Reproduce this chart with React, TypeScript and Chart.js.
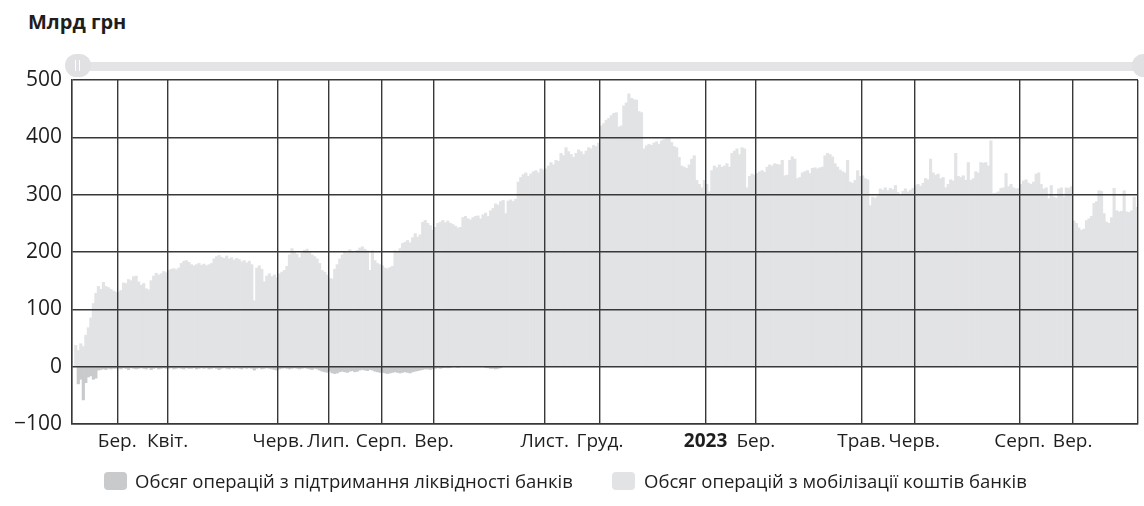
import React, { useEffect, useRef } from 'react';
import { Chart, registerables } from 'chart.js';

Chart.register(...registerables);

const FONT = "'Open Sans', 'Noto Sans', sans-serif";

// Period labels (start of each period on the x axis)
const periodLabels = ['', 'Бер.', 'Квіт.', 'Черв.', 'Лип.', 'Серп.', 'Вер.', 'Лист.', 'Груд.', '2023', 'Бер.', 'Трав.', 'Черв.', 'Серп.', 'Вер.'];

// Mobilization of bank funds, bn UAH (daily, per period)
const mobFeb22 = [0, 37, 28, 40, 35, 55, 68, 85, 110, 128, 140, 135, 147, 140, 138, 135, 132, 130];
const mobMar22 = [130, 133, 146, 145, 152, 150, 157, 158, 148, 142, 145, 136, 134, 150, 158, 163, 160, 162, 166, 164];
const mobAprMay22 = [168, 170, 171, 169, 172, 180, 184, 185, 182, 178, 176, 178, 180, 177, 179, 176, 178, 180, 188, 192, 194, 191, 189, 193, 188, 190, 186, 189, 187, 183, 185, 181, 184, 178, 115, 172, 176, 170, 148, 158, 162, 157, 160, 155];
const mobJun22 = [162, 165, 168, 175, 195, 206, 200, 196, 190, 198, 203, 205, 200, 195, 192, 188, 180, 168, 165, 160];
const mobJul22 = [154, 153, 170, 178, 188, 195, 200, 198, 204, 200, 198, 203, 207, 209, 205, 202, 168, 202, 185, 180, 178];
const mobAug22 = [176, 172, 171, 173, 175, 202, 200, 206, 215, 217, 220, 216, 225, 232, 226, 230, 252, 255, 250, 246, 238];
const mobSepOct22 = [243, 250, 252, 255, 251, 254, 250, 248, 245, 242, 243, 260, 262, 258, 256, 260, 262, 263, 258, 265, 268, 262, 272, 276, 284, 282, 288, 290, 267, 289, 291, 288, 292, 322, 330, 335, 338, 332, 336, 340, 342, 338, 345, 343];
const mobNov22 = [345, 350, 356, 352, 360, 358, 372, 368, 382, 375, 370, 365, 372, 378, 375, 370, 376, 382, 380, 386, 384, 390];
const mobDec22 = [420, 424, 430, 433, 438, 442, 443, 418, 420, 455, 460, 476, 468, 466, 465, 445, 443, 380, 385, 388, 386, 390, 392, 388, 394, 396, 398, 400, 391, 384, 382, 365, 350, 348, 346, 352, 362, 368, 325, 318, 312, 325];
const mobJanFeb23 = [318, 305, 342, 350, 347, 352, 348, 350, 354, 348, 372, 376, 380, 370, 382, 380, 312, 332, 336, 334];
const mobMarApr23 = [337, 340, 342, 339, 348, 352, 350, 354, 353, 352, 360, 333, 334, 360, 366, 362, 328, 330, 338, 340, 342, 337, 346, 347, 345, 347, 348, 368, 372, 370, 366, 354, 348, 343, 340, 338, 360, 322, 320, 325, 342, 332];
const mobMay23 = [333, 328, 326, 281, 296, 294, 297, 310, 308, 312, 307, 311, 309, 316, 304, 300, 306, 310, 305, 308, 311];
const mobJunJul23 = [316, 318, 315, 320, 328, 326, 362, 338, 334, 336, 328, 330, 312, 318, 326, 324, 372, 332, 330, 333, 325, 356, 325, 328, 340, 338, 356, 355, 356, 350, 394, 302, 303, 305, 311, 312, 337, 314, 318, 312, 310, 311];
const mobAug23 = [318, 324, 326, 320, 318, 322, 336, 338, 318, 310, 312, 293, 316, 296, 294, 310, 312, 296, 312, 311, 314];
const mobSep23 = [254, 250, 242, 238, 240, 255, 258, 262, 285, 288, 307, 306, 267, 252, 250, 260, 311, 272, 270, 271, 307, 270, 269, 272, 296, 278];

// Liquidity support operations, bn UAH (shown below zero)
const liqFeb22 = [0, 0, -30, -22, -58, -28, -18, -16, -22, -20, -6, -5, -4, -5, -3, -4, -3, -3];
const liqMar22 = [-3, -4, -2, -3, -5, -2, -3, -4, -3, -2, -3, -4, -2, -5, -3, -2, -4, -3, -2, -3];
const liqAprMay22 = [-3, -2, -4, -3, -2, -3, -4, -2, -3, -3, -2, -4, -3, -2, -3, -2, -4, -3, -2, -3, -5, -3, -2, -3, -4, -2, -3, -2, -3, -4, -2, -3, -2, -3, -6, -3, -2, -4, -3, -2, -3, -4, -5, -6];
const liqJun22 = [-4, -3, -2, -3, -4, -3, -2, -3, -4, -3, -2, -3, -4, -5, -3, -4, -6, -8, -9, -10];
const liqJul22 = [-8, -11, -12, -11, -9, -8, -9, -10, -8, -7, -9, -8, -6, -5, -6, -7, -5, -6, -8, -9, -10];
const liqAug22 = [-10, -11, -12, -11, -10, -9, -10, -11, -10, -9, -10, -11, -9, -8, -7, -6, -5, -4, -4, -5, -4];
const liqSepOct22 = [-3, -2, -3, -2, -1, -2, -1, 0, 0, -1, 0, 0, 0, 0, 0, 0, 0, 0, 0, 0, -1, -2, -3, -3, -4, -3, -2, 0, 0, 0, 0, 0, 0, 0, 0, 0, 0, 0, 0, 0, 0, 0, 0, 0];

const yTicks = [-100, 0, 100, 200, 300, 400, 500];

const seriesNames = ['Обсяг операцій з підтримання ліквідності банків', 'Обсяг операцій з мобілізації коштів банків'];
const seriesColors = ['#c9cacc', '#e2e3e5'];

const mobPeriods = [mobFeb22, mobMar22, mobAprMay22, mobJun22, mobJul22, mobAug22, mobSepOct22, mobNov22, mobDec22, mobJanFeb23, mobMarApr23, mobMay23, mobJunJul23, mobAug23, mobSep23];
const liqPeriods = [liqFeb22, liqMar22, liqAprMay22, liqJun22, liqJul22, liqAug22, liqSepOct22];

const mobValues: number[] = [];
const tickMarks: { value: number; label: string }[] = [];
mobPeriods.forEach((arr, i) => {
  if (periodLabels[i]) tickMarks.push({ value: mobValues.length - 0.5, label: periodLabels[i] });
  mobValues.push(...arr);
});
const liqValues: number[] = [];
liqPeriods.forEach((arr) => liqValues.push(...arr));
const N = mobValues.length;
const labelMap = new Map<number, string>(tickMarks.map((t) => [t.value, t.label]));

const GRID = '#383838';

export default function App() {
  const ref = useRef<HTMLCanvasElement | null>(null);
  useEffect(() => {
    document.body.style.margin = '0';
    if (!ref.current) return;
    const chart = new Chart(ref.current, {
      type: 'bar',
      data: {
        datasets: [
          {
            label: seriesNames[0],
            data: liqValues.map((v, i) => ({ x: i, y: v })),
            backgroundColor: seriesColors[0],
            borderWidth: 0,
            grouped: false,
            barPercentage: 1,
            categoryPercentage: 1,
          } as any,
          {
            label: seriesNames[1],
            data: mobValues.map((v, i) => ({ x: i, y: v })),
            backgroundColor: seriesColors[1],
            borderWidth: 0,
            grouped: false,
            barPercentage: 1,
            categoryPercentage: 1,
          } as any,
        ],
      },
      options: {
        animation: false,
        responsive: false,
        layout: { padding: { top: 80, left: 0, right: 3, bottom: 42 } },
        plugins: { legend: { display: false }, tooltip: { enabled: false }, title: { display: false } },
        scales: {
          x: {
            type: 'linear',
            min: -0.5,
            max: N - 0.5,
            offset: false,
            afterBuildTicks: (s: any) => {
              s.ticks = [{ value: -0.5 }, ...tickMarks.filter((t) => t.value > -0.5).map((t) => ({ value: t.value })), { value: N - 0.5 }];
            },
            afterFit: (s: any) => {
              s.height = 40;
            },
            grid: { color: GRID, lineWidth: 1.4, drawTicks: false, z: 1, offset: false } as any,
            border: { color: GRID, width: 1.4, z: 1 } as any,
            ticks: {
              autoSkip: false,
              maxRotation: 0,
              padding: 6,
              color: '#1e1e1e',
              font: (ctx: any) => ({
                family: FONT,
                size: 19,
                weight: ctx.tick && ctx.tick.label === '2023' ? 'bold' : 'normal',
              }),
              callback: (v: any) => labelMap.get(Number(v)) ?? '',
            },
          },
          y: {
            min: yTicks[0],
            max: yTicks[yTicks.length - 1],
            afterBuildTicks: (s: any) => {
              s.ticks = yTicks.map((v) => ({ value: v }));
            },
            afterFit: (s: any) => {
              s.width = 72;
            },
            grid: { color: GRID, lineWidth: 1.4, drawTicks: false, z: 1 } as any,
            border: { color: GRID, width: 1.4, z: 1 } as any,
            ticks: {
              padding: 10,
              color: '#1e1e1e',
              font: { family: FONT, size: 21 },
              callback: (v: any) => (Number(v) < 0 ? '−' + Math.abs(Number(v)) : String(v)),
            },
          },
        },
      } as any,
    });
    return () => chart.destroy();
  }, []);

  return (
    <div style={{ position: 'relative', width: 1144, height: 506, overflow: 'hidden', background: '#fff', fontFamily: FONT }}>
      <div style={{ position: 'absolute', left: 28, top: 12, fontSize: 20, lineHeight: '20px', fontWeight: 700, color: '#1e1e1e' }}>Млрд грн</div>
      {/* navigator scrollbar */}
      <div style={{ position: 'absolute', left: 84, top: 62, width: 1052, height: 9, background: '#e4e4e6' }} />
      <div style={{ position: 'absolute', left: 65, top: 54, width: 26, height: 23, borderRadius: 12, background: '#e1e1e3' }}>
        <div style={{ position: 'absolute', left: 10, top: 6, width: 1, height: 11, background: '#fff' }} />
        <div style={{ position: 'absolute', left: 14, top: 6, width: 1, height: 11, background: '#fff' }} />
      </div>
      <div style={{ position: 'absolute', left: 1132, top: 54, width: 26, height: 23, borderRadius: 12, background: '#e1e1e3' }} />
      <canvas ref={ref} width={1144} height={506} style={{ position: 'absolute', left: 0, top: 0, display: 'block' }} />
      {/* legend */}
      <div style={{ position: 'absolute', left: 104, top: 472, height: 18, display: 'flex', alignItems: 'center' }}>
        <span style={{ width: 23, height: 18, borderRadius: 4, background: seriesColors[0], display: 'inline-block', marginRight: 8 }} />
        <span style={{ fontSize: 18.5, lineHeight: '18px', color: '#1e1e1e', whiteSpace: 'nowrap' }}>{seriesNames[0]}</span>
      </div>
      <div style={{ position: 'absolute', left: 612, top: 472, height: 18, display: 'flex', alignItems: 'center' }}>
        <span style={{ width: 23, height: 18, borderRadius: 4, background: seriesColors[1], display: 'inline-block', marginRight: 9 }} />
        <span style={{ fontSize: 18.5, lineHeight: '18px', color: '#1e1e1e', whiteSpace: 'nowrap' }}>{seriesNames[1]}</span>
      </div>
    </div>
  );
}
